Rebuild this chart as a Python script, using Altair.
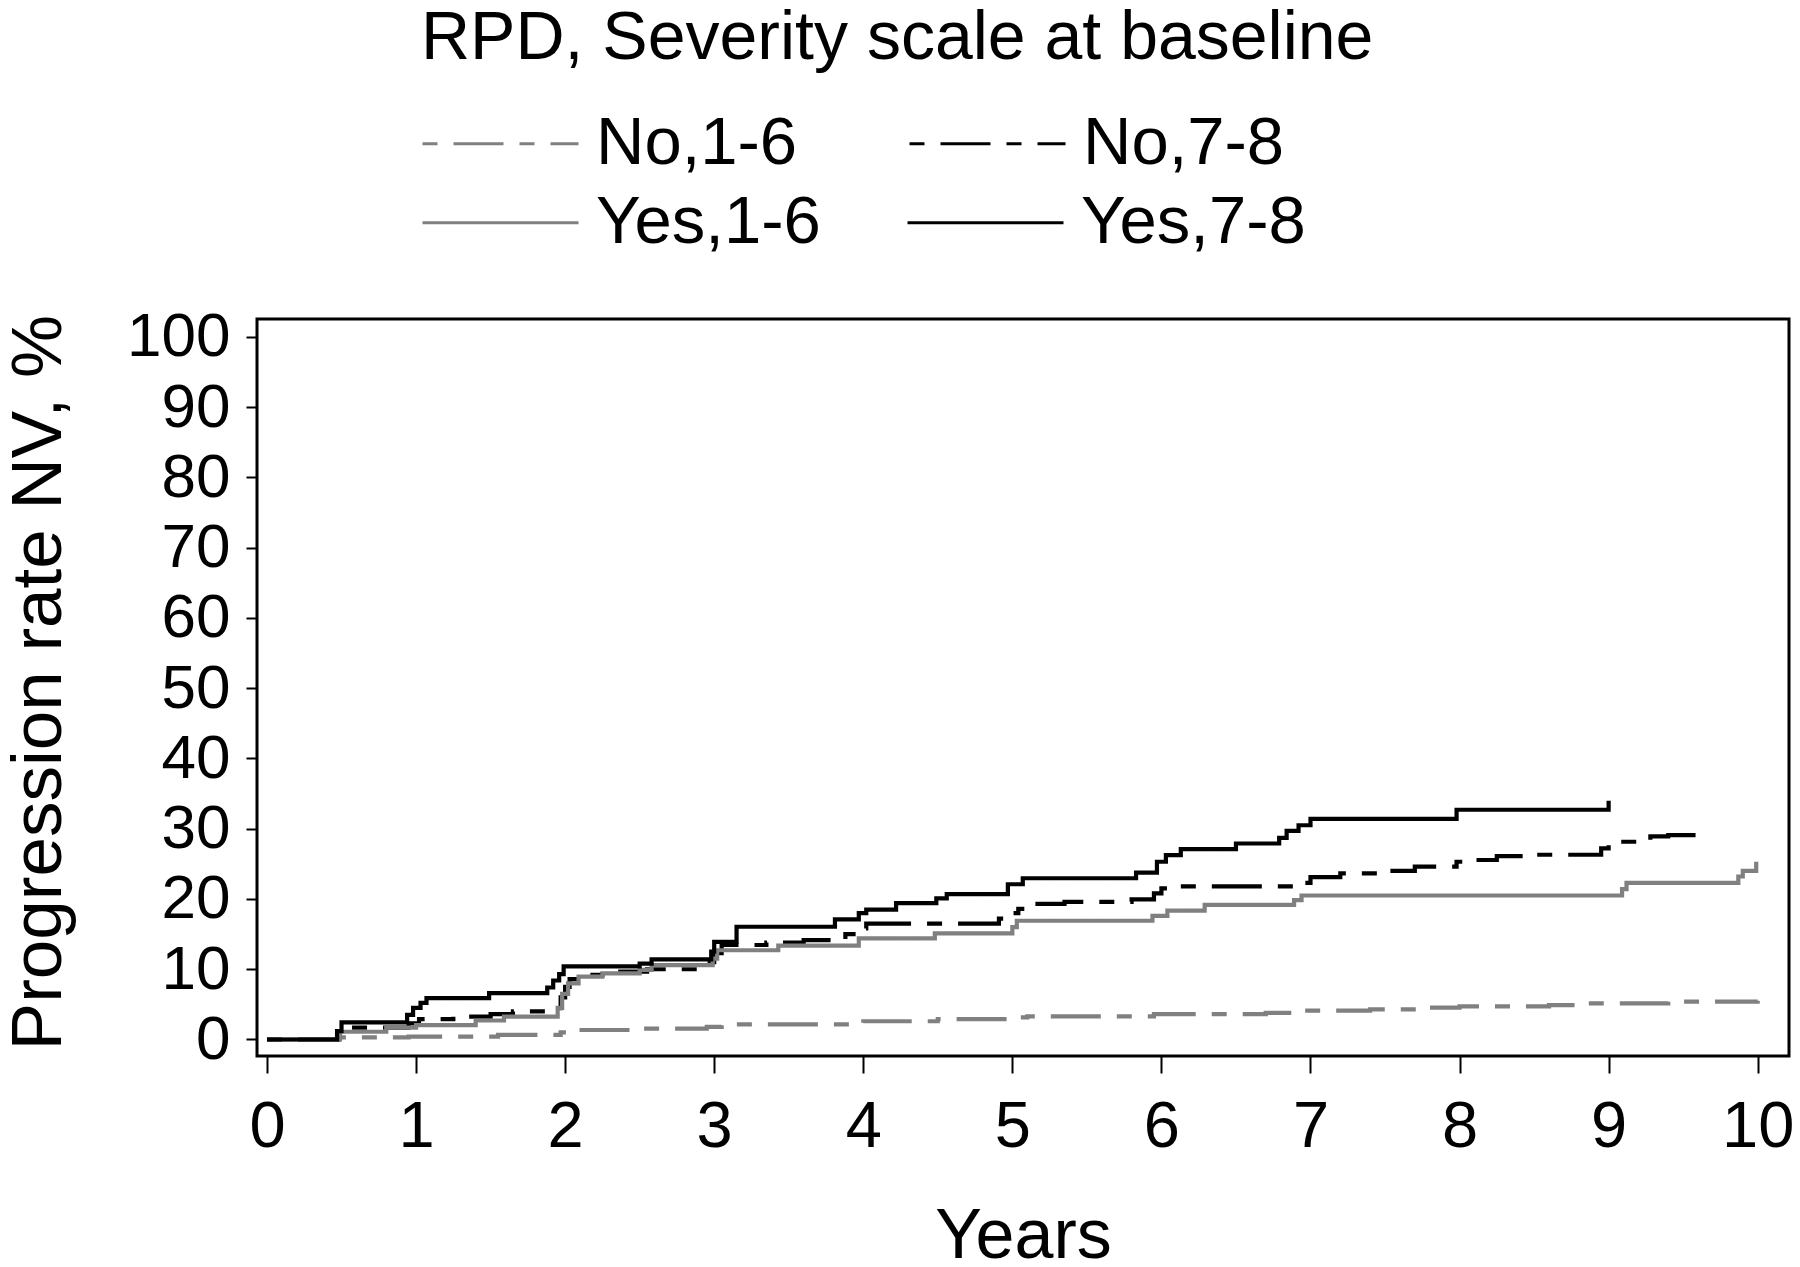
import altair as alt
import pandas as pd

FONT = "Liberation Sans"

no_groups = ["No,1-6", "No,7-8"]
yes_groups = ["Yes,1-6", "Yes,7-8"]

# No RPD, severity 1-6 (gray dashed)
no16_x = [0, 0.48, 0.95, 1.55, 1.97, 2.02, 2.50, 2.95, 3.05, 4.00, 4.50, 5.00, 5.10,
          5.95, 6.70, 6.95, 7.40, 7.75, 8.00, 8.60, 8.85, 9.40, 10.00]
no16_y = [0, 0.3, 0.4, 0.65, 1.0, 1.35, 1.55, 1.8, 2.15, 2.6, 2.9, 3.15, 3.3,
          3.6, 3.8, 4.1, 4.3, 4.55, 4.7, 4.9, 5.15, 5.4, 5.5]

# No RPD, severity 7-8 (black dashed)
no78_x = [0, 0.48, 0.52, 0.95, 1.02, 1.25, 1.50, 1.65, 1.85, 1.97, 2.00, 2.03, 2.08,
          2.25, 2.55, 2.97, 3.00, 3.05, 3.35, 3.60, 3.88, 3.95, 4.02, 4.91, 4.98,
          5.04, 5.10, 5.35, 5.80, 5.95, 6.00, 6.05, 6.95, 7.00, 7.20, 7.45, 7.70,
          7.98, 8.02, 8.25, 8.50, 8.95, 9.00, 9.28, 9.40, 9.67]
no78_y = [0, 1.0, 1.7, 2.3, 2.9, 3.25, 3.6, 4.0, 4.45, 6.0, 7.5, 8.6, 9.2,
          9.65, 10.0, 11.0, 12.3, 13.45, 13.8, 14.15, 15.0, 15.8, 16.5, 17.2, 18.0,
          18.6, 19.3, 19.6, 19.95, 20.8, 21.5, 21.8, 22.3, 23.1, 23.65, 24.0, 24.6,
          25.3, 25.55, 26.1, 26.3, 27.2, 28.15, 28.9, 29.1, 29.1]

# RPD, severity 1-6 (gray solid)
yes16_x = [0, 0.49, 0.80, 1.00, 1.40, 1.59, 1.95, 1.98, 2.02, 2.09, 2.25, 2.50, 2.58,
           2.99, 3.02, 3.43, 3.97, 4.48, 5.00, 5.03, 5.94, 6.04, 6.29, 6.89, 6.94,
           9.09, 9.12, 9.87, 9.90, 9.99]
yes16_y = [0, 1.1, 1.7, 2.05, 2.7, 3.25, 4.5, 6.5, 8.0, 8.95, 9.4, 9.9, 10.6,
           11.5, 12.7, 13.35, 14.4, 15.1, 16.0, 16.9, 17.6, 18.35, 19.15, 19.85, 20.5,
           21.4, 22.3, 23.2, 24.0, 25.3]

# RPD, severity 7-8 (black solid)
yes78_x = [0, 0.47, 0.50, 0.94, 0.98, 1.03, 1.07, 1.49, 1.88, 1.92, 1.96, 1.99, 2.50,
           2.58, 2.98, 3.00, 3.15, 3.81, 3.97, 4.02, 4.22, 4.49, 4.56, 4.97, 5.07,
           5.83, 5.97, 6.03, 6.13, 6.50, 6.79, 6.84, 6.92, 7.00, 7.98, 9.00]
yes78_y = [0, 1.2, 2.45, 3.5, 4.5, 5.2, 5.9, 6.6, 7.4, 8.4, 9.3, 10.4, 10.8,
           11.4, 12.5, 13.9, 16.05, 17.1, 18.0, 18.5, 19.4, 20.1, 20.7, 22.1, 22.95,
           23.75, 25.3, 26.25, 27.1, 27.9, 28.7, 29.7, 30.5, 31.4, 32.7, 34.0]

x_ticks = list(range(0, 11))
y_ticks = list(range(0, 101, 10))


def frame(pairs):
    rows = []
    for g, xs, ys in pairs:
        for xv, yv in zip(xs, ys):
            rows.append({"group": g, "years": xv, "rate": yv})
    return pd.DataFrame(rows)


df_no = frame([("No,1-6", no16_x, no16_y), ("No,7-8", no78_x, no78_y)])
df_yes = frame([("Yes,1-6", yes16_x, yes16_y), ("Yes,7-8", yes78_x, yes78_y)])

colors = ["#808080", "#000000"]
dash_pat = [15, 16, 50, 16]

common_legend = dict(
    orient="none", legendX=164, columns=2, direction="horizontal", padding=0,
    symbolType="stroke", symbolSize=24336, symbolStrokeWidth=3,
    labelFontSize=67, labelFont=FONT, labelLimit=600, labelOffset=16, labelColor="black",
)

legend_no = alt.Legend(
    title="RPD, Severity scale at baseline", legendY=-314, columnPadding=105,
    titleFontSize=68, titleFont=FONT, titleFontWeight="normal", titleLimit=2000,
    titlePadding=-9, titleColor="black", titleAnchor="start",
    **common_legend,
)
legend_yes = alt.Legend(title=None, legendY=-176, columnPadding=80, **common_legend)

x_enc = alt.X("years:Q",
              scale=alt.Scale(domain=[-0.067, 10.21], nice=False, zero=False),
              axis=alt.Axis(values=x_ticks, tickSize=17, tickWidth=2, tickColor="black",
                            labelFontSize=65, labelFont=FONT, labelPadding=22, labelColor="black",
                            labelFlush=False, labelOverlap=False, domain=False, grid=False,
                            title="Years", titleFontSize=70, titleFont=FONT,
                            titleFontWeight="normal", titleColor="black",
                            titleY=201, titleBaseline="alphabetic"))
y_enc = alt.Y("rate:Q",
              scale=alt.Scale(domain=[-2.35, 102.56], nice=False, zero=False),
              axis=alt.Axis(values=y_ticks, tickSize=11, tickWidth=2, tickColor="black",
                            labelFontSize=62, labelFont=FONT, labelPadding=16, labelColor="black",
                            labelFlush=False, labelOverlap=False, domain=False, grid=False,
                            title="Progression rate NV, %", titleFontSize=71, titleFont=FONT,
                            titleFontWeight="normal", titleColor="black",
                            titleX=-197, titleY=363, titleAngle=270,
                            titleBaseline="alphabetic", titleAlign="center"))

line_no = alt.Chart(df_no).mark_line(interpolate="step-after", strokeWidth=4.2, strokeCap="butt").encode(
    x=x_enc, y=y_enc,
    color=alt.Color("group:N", scale=alt.Scale(domain=no_groups, range=colors), legend=legend_no),
    strokeDash=alt.StrokeDash("group:N", scale=alt.Scale(domain=no_groups, range=[dash_pat, dash_pat]),
                              legend=legend_no),
)

line_yes = alt.Chart(df_yes).mark_line(interpolate="step-after", strokeWidth=4.2, strokeCap="butt").encode(
    x=x_enc, y=y_enc,
    color=alt.Color("group:N", scale=alt.Scale(domain=yes_groups, range=colors), legend=legend_yes),
    strokeDash=alt.StrokeDash("group:N", scale=alt.Scale(domain=yes_groups, range=[[1, 0], [1, 0]]),
                              legend=legend_yes),
)

chart = alt.layer(line_no, line_yes).resolve_scale(
    color="independent", strokeDash="independent"
).properties(
    width=1532, height=737,
    padding={"left": 249, "top": 311, "right": 3, "bottom": 203},
    autosize=alt.AutoSizeParams(type="none"),
    background="white",
).configure_view(stroke="black", strokeWidth=3, fill="white")

chart.save("out.html", embed_options={"renderer": "svg", "actions": False})
